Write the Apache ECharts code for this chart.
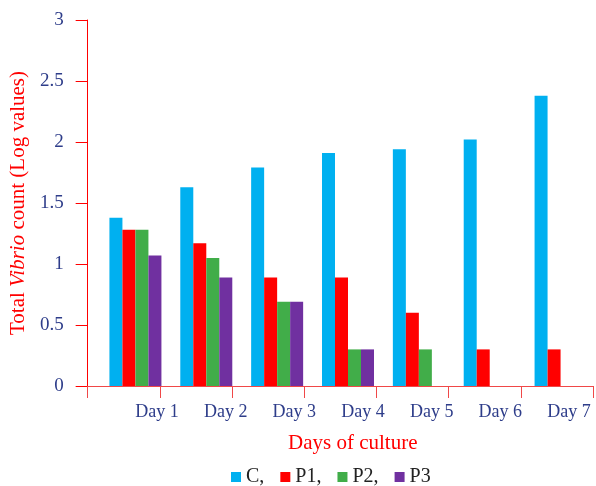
<!DOCTYPE html>
<html>
<head>
<meta charset="utf-8">
<script src="https://cdn.jsdelivr.net/npm/echarts@6/dist/echarts.min.js"></script>
<style>html,body{margin:0;padding:0;background:#fff}#c{width:596px;height:486px}</style>
</head>
<body>
<div id="c"></div>
<script>
const days = ['Day 1','Day 2','Day 3','Day 4','Day 5','Day 6','Day 7'];
const seriesNames = ['C','P1','P2','P3'];
const C  = [1.38, 1.63, 1.79, 1.91, 1.94, 2.02, 2.38];
const P1 = [1.28, 1.17, 0.89, 0.89, 0.60, 0.30, 0.30];
const P2 = [1.28, 1.05, 0.69, 0.30, 0.30, null, null];
const P3 = [1.07, 0.89, 0.69, 0.30, null, null, null];
const yTicks = [0, 0.5, 1, 1.5, 2, 2.5, 3];
const colors = ['#00B0F0', '#FF0000', '#41AD49', '#7030A0'];

const serif = 'Liberation Serif';
const chart = echarts.init(document.getElementById('c'));
const values = [C, P1, P2, P3];
chart.setOption({
  animation: false,
  title: {
    text: 'Days of culture', left: 288, top: 433, padding: 0,
    textStyle: {fontFamily: serif, fontSize: 21, fontWeight: 'normal', color: '#FF0000'}
  },
  legend: {
    top: 467, left: 231, padding: 0, itemWidth: 10, itemHeight: 10, itemGap: 16,
    icon: 'rect',
    data: seriesNames,
    formatter: n => n === 'P3' ? n : n + ',',
    textStyle: {fontFamily: serif, fontSize: 20, color: '#222'}
  },
  grid: [
    {left: 100, right: -3, top: 20, bottom: 100},
    {left: 87, right: 3, top: 20, bottom: 100},
    {left: 157, right: 27, top: 20, bottom: 100}
  ],
  xAxis: [
    {gridIndex: 0, type: 'category', data: days, show: false},
    {gridIndex: 1, type: 'category', data: days,
      axisLine: {lineStyle: {color: '#f04848', width: 1}},
      axisTick: {show: true, length: 12, lineStyle: {color: '#f04848'}},
      axisLabel: {show: false}},
    {gridIndex: 2, type: 'category', data: days, boundaryGap: false,
      axisLine: {show: false}, axisTick: {show: false},
      axisLabel: {margin: 17, fontFamily: serif, fontSize: 18, color: '#2e3d8a'}}
  ],
  yAxis: [
    {gridIndex: 0, type: 'value', min: 0, max: 3, interval: 0.5, show: false},
    {gridIndex: 1, type: 'value', min: 0, max: 3, interval: 0.5,
      name: 'Total {i|Vibrio} count (Log values)', nameLocation: 'middle', nameGap: 57,
      nameTextStyle: {fontFamily: serif, fontSize: 21, color: '#FF0000',
        rich: {i: {fontFamily: serif, fontSize: 21, fontStyle: 'italic', color: '#FF0000'}}},
      axisLine: {show: true, lineStyle: {color: '#FF0000'}},
      axisTick: {show: true, length: 12, lineStyle: {color: '#FF0000'}},
      splitLine: {show: false},
      axisLabel: {margin: 24, fontFamily: serif, fontSize: 19, color: '#2e3d8a',
        formatter: v => yTicks.includes(v) ? String(v) : ''}},
    {gridIndex: 2, type: 'value', min: 0, max: 3, show: false}
  ],
  series: seriesNames.map((n, i) => ({
    name: n, type: 'bar', xAxisIndex: 0, yAxisIndex: 0,
    data: values[i], barWidth: 13, barGap: '0%',
    itemStyle: {color: colors[i]}
  }))
});
</script>
</body>
</html>
